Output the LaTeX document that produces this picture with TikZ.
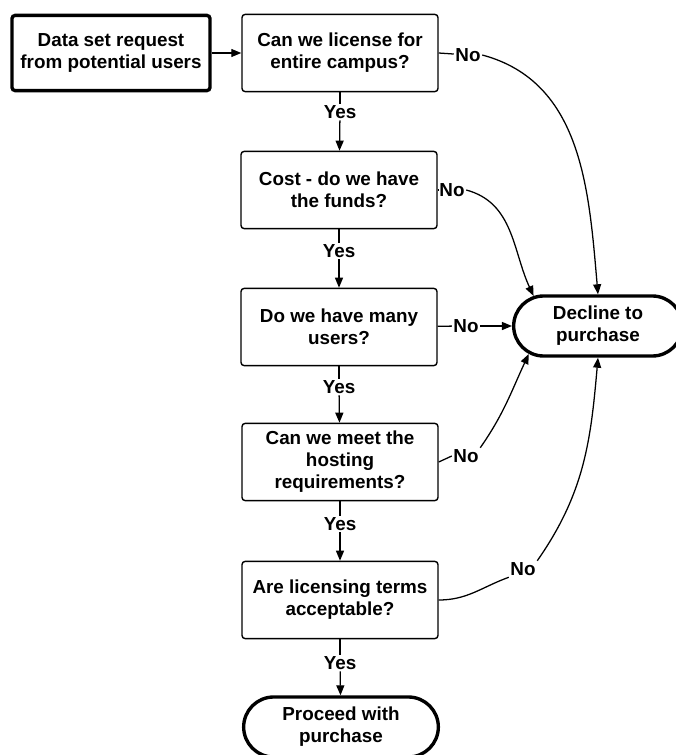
\documentclass[tikz,border=0pt]{standalone}
\usepackage{fontspec}
\setmainfont{Liberation Sans}
\usetikzlibrary{shapes.misc,arrows.meta}

\begin{document}
\begin{tikzpicture}[%
					x=0.025cm, y=-0.025cm,
					every node/.style={%
						align=center,
						font=\fontsize{13.4}{15.6}\selectfont\bfseries
					},
					question/.style={%
						draw,
						line width=1pt,
						rounded corners=0.08cm,
						minimum width=4.9cm,
						minimum height=1.93cm,
						inner sep=2pt
					},
					request/.style={%
						question,
						line width=2.4pt,
						minimum width=4.95cm,
						minimum height=1.88cm
					},
					terminal/.style={%
						draw,
						rounded rectangle,
						line width=2.4pt,
						minimum height=1.5cm
					},
					answer/.style={fill=white, inner sep=1pt},
					link/.style={line width=0.9pt},
					flow/.style={link, -{Triangle[length=2.5mm,width=2mm]}}
				]

				\useasboundingbox (0, 0) rectangle (676, 755);

				\node (request) [request] at (111, 53) {%
					Data set request \\
					from potential users
				};

				\node (campus) [question] at (340, 53) {%
					Can we license for \\
					entire campus?
				};
				\node (funds) [question] at (339, 190) {%
					Cost - do we have \\
					the funds?
				};
				\node (users) [question] at (339, 327) {%
					Do we have many \\
					users?
				};
				\node (hosting) [question] at (340, 462) {%
					Can we meet the \\
					hosting \\
					requirements?
				};
				\node (terms) [question] at (340, 600) {%
					Are licensing terms \\
					acceptable?
				};

				\node (proceed) [terminal, minimum width=5.1cm] at (341, 727) {%
					Proceed with \\
					purchase
				};
				\node (decline) [terminal, minimum width=4.45cm] at (598, 326) {%
					Decline to \\
					purchase
				};

				% answers
				\node (yes1) [answer] at (340, 112) {Yes};
				\node (yes2) [answer] at (339, 251) {Yes};
				\node (yes3) [answer] at (339, 387) {Yes};
				\node (yes4) [answer] at (340, 524) {Yes};
				\node (yes5) [answer] at (340, 663) {Yes};

				\node (no1) [answer] at (468, 55) {No};
				\node (no2) [answer] at (452, 190) {No};
				\node (no3) [answer] at (466, 326) {No};
				\node (no4) [answer] at (466, 456) {No};
				\node (no5) [answer] at (523, 569) {No};

				\draw [flow] (request) -- (campus);

				\foreach \from/\label/\to in {campus/yes1/funds, funds/yes2/users,
						users/yes3/hosting, hosting/yes4/terms, terms/yes5/proceed} {
					\draw [link] (\from) -- (\label);
					\draw [flow] (\label) -- (\to);
				}

				\draw [link] (campus.east) -- (no1);
				\draw [flow] (no1.east) to[out=-15, in=95] (decline.north);

				\draw [link] (funds.east) -- (no2);
				\draw [flow] (no2.east) to[out=-15, in=115] (decline.155);

				\draw [link] (users) -- (no3);
				\draw [flow] (no3) -- (decline);

				\draw [link] (hosting.east) -- (no4.west);
				\draw [flow] (no4.north east) to[out=55, in=-115] (decline.202);

				\draw [link] (terms.east) to[out=0, in=200] (no5.south west);
				\draw [flow] (no5.north east) to[out=55, in=-95] (decline.south);
			\end{tikzpicture}
\end{document}
